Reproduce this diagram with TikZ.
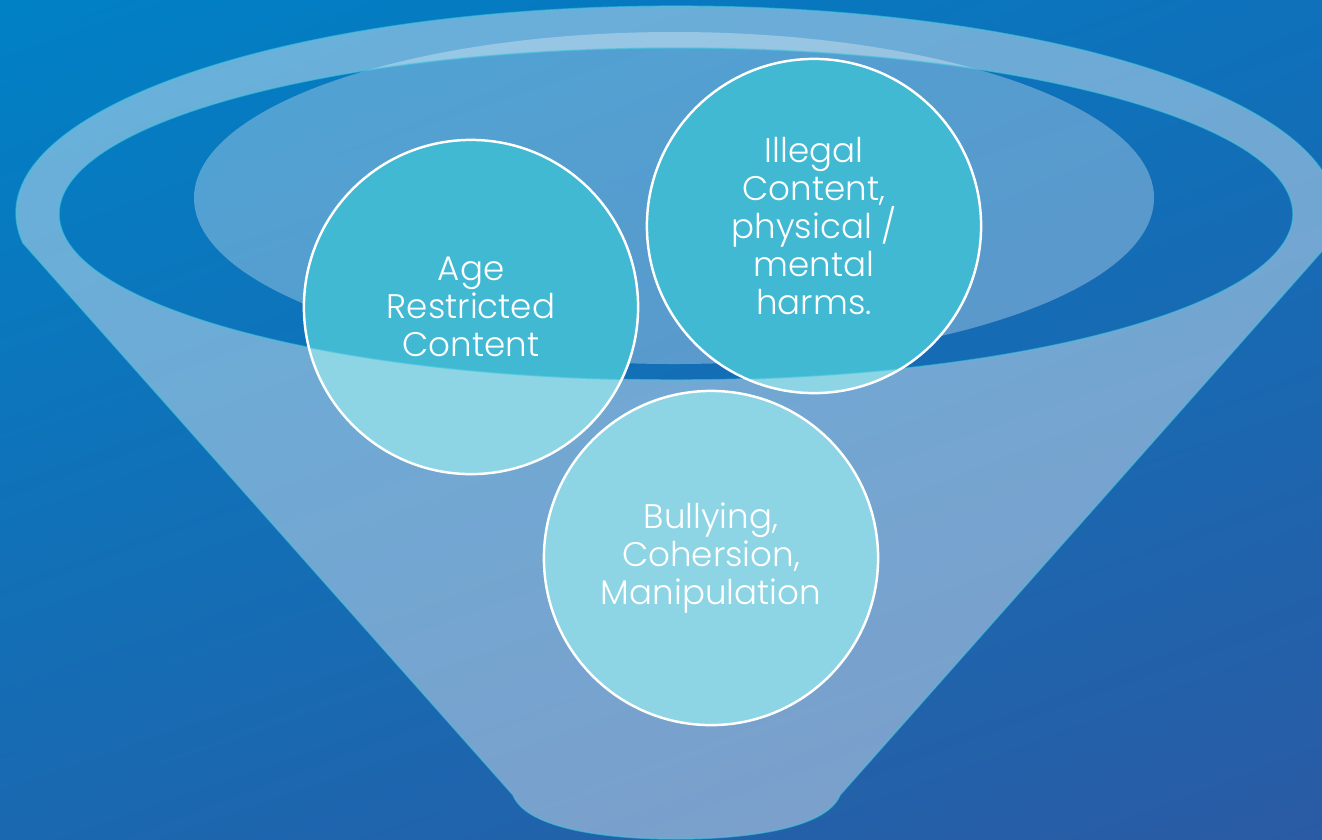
\documentclass[tikz,border=0pt]{standalone}
\usepackage{fontspec}
\setmainfont{Poppins}[UprightFont=* Light]
\usetikzlibrary{shadings}
\definecolor{bgtl}{HTML}{0081C6}
\definecolor{bgtr}{HTML}{0E71BA}
\definecolor{bgbl}{HTML}{1A68B0}
\definecolor{bgbr}{HTML}{2A5BA4}
\definecolor{topicteal}{HTML}{41B9D3}
\definecolor{rimcyan}{HTML}{45C4DC}
\tikzset{
  funnel/.style={fill=white, fill opacity=0.4, draw=rimcyan, draw opacity=0.6, line width=0.4pt, even odd rule},
  topic/.style={circle, draw=white, line width=0.7pt, minimum size=3.34cm, inner sep=0pt,
    align=center, text=white, font=\fontsize{9.7}{10.8}\selectfont}
}
\begin{document}
\begin{tikzpicture}[x=0.01cm,y=-0.01cm]
  \useasboundingbox (0,0) rectangle (1322,839);
  \clip (0,0) rectangle (1322,839);
  \shade[upper left=bgtl, upper right=bgtr, lower left=bgbl, lower right=bgbr] (0,0) rectangle (1322,839);
  % inner disc of the funnel mouth
  \fill[white, opacity=0.3] (674,198) ellipse[x radius=480, y radius=166];
  % circle fills, the front of the funnel goes over them
  \foreach \x/\y in {471/307, 814/226, 711/558}
  {
    \fill[topicteal] (\x,\y) circle[radius=167];
  }
  % rim and cone
  \path[funnel] (23,243) arc[start angle=171.7, end angle=368.3, x radius=660, y radius=207]
      -- (840,795) .. controls (826,830) and (740,839) .. (676,839)
      .. controls (612,839) and (527,830) .. (513,795) -- cycle
      (676,214) ellipse[x radius=617, y radius=166];
  \node[topic] (age) at (471,307) {Age\\Restricted\\Content};
  \node[topic] (illegal) at (814,226) {Illegal\\Content,\\physical /\\mental\\harms.};
  \node[topic] (bullying) at (711,558) {Bullying,\\Cohersion,\\Manipulation};
\end{tikzpicture}
\end{document}
